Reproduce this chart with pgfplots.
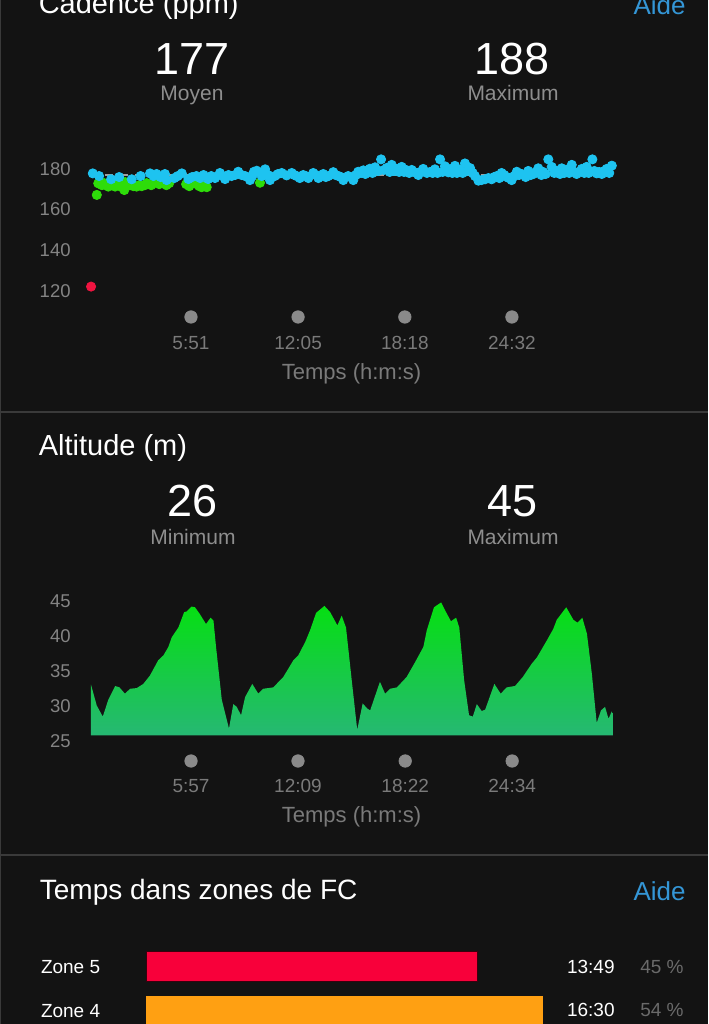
\documentclass[border=0pt]{standalone}
\usepackage{fontspec}
\setmainfont{Liberation Sans}
\usepackage{pgfplots}
\pgfplotsset{compat=1.18}
\definecolor{bg}{HTML}{131313}
\definecolor{sep}{HTML}{3A3A3A}
\definecolor{subtxt}{HTML}{8E8E8E}
\definecolor{ticktxt}{HTML}{7A7A7A}
\definecolor{ytxt}{HTML}{848484}
\definecolor{dotgray}{HTML}{8A8A8A}
\definecolor{pcttxt}{HTML}{6A6A6A}
\definecolor{aide}{HTML}{3496D6}
\definecolor{ccyan}{HTML}{1EC3F0}
\definecolor{cgreen}{HTML}{2EDC0A}
\definecolor{cred}{HTML}{F01440}
\definecolor{zfive}{HTML}{F8003A}
\definecolor{zfivedark}{HTML}{3A000E}
\definecolor{zfour}{HTML}{FFA012}
\definecolor{alttop}{HTML}{05E010}
\definecolor{altbot}{HTML}{26B873}
\def\u{0.5pt}
\pgfplotsset{darkax/.style={scale only axis, axis line style={draw=none}, tick style={draw=none}, major tick length=0pt,
  ticklabel style={/pgf/number format/assume math mode=true}}}

\pgfplotstableread{
t v
8 177.8
30 176.5
72 174.9
100 176
144 174.9
175 176.5
208 177.8
220 176.5
231 177.5
245 176
260 177.5
266 174.5
293 175.5
305 176.5
319 177.8
342 175
355 176
370 176.5
383 175.5
395 177
411 175
422 176.5
435 175.5
452 178
462 176.5
470 175
482 177
493 176.5
505 177
516 178.6
528 177
540 176.5
557 174.5
565 176.5
571 178.6
581 179.1
598 176.5
610 179.8
620 177
627 174.5
644 176.5
655 177.5
668 178
685 176.8
703 178
712 177
720 176.5
731 175.5
743 177
752 176.5
761 175.5
778 178
788 177
796 175.5
813 177.5
822 176
831 176.5
848 178.4
856 177
866 176.5
875 176
883 174.5
900 176.5
908 176
918 174.5
927 177
935 178.6
945 178
953 179.3
960 177.5
968 178.5
976 180.1
985 178
994 180.8
1005 179
1015 184.7
1025 179.5
1035 180.5
1045 178.5
1052 182
1060 179
1070 180
1078 178.5
1087 181
1095 178.5
1104 179.4
1113 178
1122 179.5
1130 178.5
1145 177
1152 178.5
1162 180
1175 178
1186 178.5
1195 178
1203 179.8
1212 178
1221 184.7
1230 178.5
1238 181.3
1250 178.3
1256 179.9
1264 178
1273 181.5
1280 178
1291 179.5
1300 178
1308 182.7
1315 179
1326 180.4
1335 178
1343 176.5
1355 174.2
1366 174.5
1378 174.9
1390 175.5
1401 174.9
1410 176
1419 176.5
1428 175.5
1436 178
1445 177
1454 176
1462 175.5
1471 174.5
1480 176.5
1489 178.6
1497 177
1506 177.5
1520 176
1529 179
1538 177
1547 177.5
1556 178.5
1564 180.3
1575 177
1581 178.5
1590 177.5
1599 184.7
1611 181
1620 178
1628 179
1640 177.5
1646 180.3
1655 178
1663 179.5
1672 178
1681 182
1690 178.5
1698 177.5
1707 178.5
1716 180
1725 178
1733 181
1740 178
1753 184.7
1760 179
1768 177.8
1777 178.5
1786 177.5
1795 179
1803 180
1812 178
1821 181.6
}\cadblue

\pgfplotstableread{
t v
22 167.2
27 172.9
40 172
47 173
55 172
62 171.3
75 172
86 171.3
95 172.5
103 172
110 171
118 169.6
121 173.5
130 172.5
138 172
150 171.5
161 171.3
170 172
179 171.5
190 172
196 173
212 172
225 173.2
240 172.5
254 173
265 172
275 173
334 172.5
345 171.5
359 173
371 172.5
380 171.5
388 171
397 171.5
406 171
592 173.2
}\cadgreen

\pgfplotstableread{
t v
9 25.8
9 33.1
29 30.1
50 28.5
69 30.9
93 32.9
108 32.7
127 31.8
145 32.5
168 32.6
191 33.2
214 34.4
243 36.6
261 37.3
278 38.5
290 39.9
313 41.3
333 43.5
342 43.6
359 44.3
371 44.2
388 43.2
409 41.8
425 42.7
435 42.3
444 38.5
464 30.9
489 26.8
504 30.3
516 29.9
531 28.7
545 31.3
570 33.2
591 31.8
608 32.5
643 32.7
678 34.2
713 36.6
730 37.3
754 39.2
771 40.9
792 43.4
821 44.4
841 43.5
866 41.6
881 43.0
896 41.3
916 33.7
935 26.6
954 30.4
969 29.7
980 29.4
1014 33.5
1032 31.8
1049 32.5
1073 32.7
1107 34.2
1136 36.3
1165 38.5
1177 40.9
1202 44.2
1227 44.9
1244 43.5
1261 42.2
1279 42.7
1290 41.3
1307 33.7
1324 28.7
1337 28.5
1351 30.3
1368 29.3
1380 29.5
1412 33.2
1434 31.8
1455 32.7
1484 32.9
1511 34.2
1542 36.1
1560 37.0
1594 39.4
1617 41.1
1629 42.4
1662 44.2
1687 42.4
1701 42.0
1718 42.7
1734 40.4
1751 34.7
1768 27.6
1783 29.4
1797 29.9
1809 28.2
1821 29.3
1824 29.0
1824 25.8
}\altdata

\begin{document}
\begin{tikzpicture}
\fill[bg] (0,0) rectangle (708*\u,-1024*\u);
\begin{scope}
\clip (0,0) rectangle (708*\u,-1024*\u);
\draw[sep, line width=1*\u] (0.5*\u,0) -- (0.5*\u,-1024*\u);
\draw[sep, line width=2*\u] (0,-411.5*\u) -- (708*\u,-411.5*\u);
\draw[sep, line width=2*\u] (0,-855*\u) -- (708*\u,-855*\u);

% --- Cadence header
\node[anchor=base west, inner sep=0pt, text=white, font=\fontsize{14.5}{17}\selectfont] at (38.4*\u,-13.3*\u) {Cadence (ppm)};
\node[anchor=base east, inner sep=0pt, text=aide, font=\fontsize{13}{15}\selectfont] at (686*\u,-14*\u) {Aide};
\node[anchor=base, inner sep=0pt, text=white, font=\fontsize{22.5}{26}\selectfont] at (192*\u,-74*\u) {177};
\node[anchor=base, inner sep=0pt, text=subtxt, font=\fontsize{10.5}{12}\selectfont] at (192*\u,-100.7*\u) {Moyen};
\node[anchor=base, inner sep=0pt, text=white, font=\fontsize{22.5}{26}\selectfont] at (512*\u,-74*\u) {188};
\node[anchor=base, inner sep=0pt, text=subtxt, font=\fontsize{10.5}{12}\selectfont] at (513*\u,-100.7*\u) {Maximum};

% --- Altitude header
\node[anchor=base west, inner sep=0pt, text=white, font=\fontsize{14.5}{17}\selectfont] at (38.4*\u,-455*\u) {Altitude (m)};
\node[anchor=base, inner sep=0pt, text=white, font=\fontsize{22.5}{26}\selectfont] at (193*\u,-516.7*\u) {26};
\node[anchor=base, inner sep=0pt, text=subtxt, font=\fontsize{10.5}{12}\selectfont] at (193*\u,-544*\u) {Minimum};
\node[anchor=base, inner sep=0pt, text=white, font=\fontsize{22.5}{26}\selectfont] at (513*\u,-516.7*\u) {45};
\node[anchor=base, inner sep=0pt, text=subtxt, font=\fontsize{10.5}{12}\selectfont] at (513*\u,-544*\u) {Maximum};

% --- Zones header
\node[anchor=base west, inner sep=0pt, text=white, font=\fontsize{14}{17}\selectfont] at (39.5*\u,-899.3*\u) {Temps dans zones de FC};
\node[anchor=base east, inner sep=0pt, text=aide, font=\fontsize{13}{15}\selectfont] at (686*\u,-900*\u) {Aide};
\node[anchor=base east, inner sep=0pt, text=white, font=\fontsize{9.5}{11}\selectfont] at (615*\u,-973*\u) {13:49};
\node[anchor=base east, inner sep=0pt, text=pcttxt, font=\fontsize{9.5}{11}\selectfont] at (684*\u,-973*\u) {45 \%};
\node[anchor=base east, inner sep=0pt, text=white, font=\fontsize{9.5}{11}\selectfont] at (615*\u,-1016.7*\u) {16:30};
\node[anchor=base east, inner sep=0pt, text=pcttxt, font=\fontsize{9.5}{11}\selectfont] at (684*\u,-1016.7*\u) {54 \%};

% --- Cadence chart
\begin{axis}[darkax, at={(90.5*\u,-300*\u)}, anchor=south west,
  width=264.75pt, height=75pt,
  xmin=0, xmax=1849.5, ymin=115.5, ymax=189.3,
  xtick={351,725,1098,1472}, xticklabels={5:51,12:05,18:18,24:32},
  ytick={120,140,160,180},
  xticklabel style={anchor=center, inner sep=0pt, yshift=-21.35pt, font=\fontsize{9.5}{11}\selectfont, text=ticktxt},
  yticklabel style={anchor=east, inner sep=0pt, xshift=-9.75pt, font=\fontsize{9.25}{10}\selectfont, text=ytxt},
  xlabel={Temps (h:m:s)},
  xlabel style={at={(axis description cs:0.493,0)}, anchor=center, inner sep=0pt, yshift=-37pt, font=\fontsize{11}{13}\selectfont, text=ticktxt},
  clip=false]
\addplot[only marks, mark=*, mark size=3.1pt, color=dotgray] coordinates {(351,107.15) (725,107.15) (1098,107.15) (1472,107.15)};
\addplot[only marks, mark=*, mark size=2.3pt, color=cred] coordinates {(2,122.1)};
\addplot[only marks, mark=*, mark size=2.3pt, color=cgreen] table[x=t,y=v] {\cadgreen};
\addplot[only marks, mark=*, mark size=2.3pt, color=ccyan] table[x=t,y=v] {\cadblue};
\addplot[white, opacity=0.6, line width=1pt, dash pattern=on 4pt off 3.5pt] coordinates {(0,177) (1824,177)};
\end{axis}

% --- Altitude chart
\begin{axis}[darkax, at={(88.4*\u,-741*\u)}, anchor=south west,
  width=265.8pt, height=75.5pt,
  xmin=0, xmax=1849, ymin=25, ymax=46.68,
  xtick={357,729,1102,1474}, xticklabels={5:57,12:09,18:22,24:34},
  ytick={25,30,35,40,45},
  xticklabel style={anchor=center, inner sep=0pt, yshift=-22.35pt, font=\fontsize{9.5}{11}\selectfont, text=ticktxt},
  yticklabel style={anchor=east, inner sep=0pt, xshift=-8.7pt, font=\fontsize{9.25}{10}\selectfont, text=ytxt},
  xlabel={Temps (h:m:s)},
  xlabel style={at={(axis description cs:0.495,0)}, anchor=center, inner sep=0pt, yshift=-37.85pt, font=\fontsize{11}{13}\selectfont, text=ticktxt},
  clip=false]
\addplot[draw=none, top color=alttop, bottom color=altbot] table[x=t,y=v] {\altdata} -- cycle;
\addplot[only marks, mark=*, mark size=3.1pt, color=dotgray] coordinates {(357,22.13) (729,22.13) (1102,22.13) (1474,22.13)};
\end{axis}

% --- HR zones
\begin{axis}[darkax, at={(146.7*\u,-1040*\u)}, anchor=south west,
  width=271.65pt, height=50pt,
  xmin=0, xmax=1360.6, ymin=3.345, ymax=5.603,
  xtick=\empty, ytick={4,5}, yticklabels={Zone 4,Zone 5},
  yticklabel style={anchor=west, inner sep=0pt, xshift=-53.05pt, font=\fontsize{9.5}{11}\selectfont, text=white},
  clip=false]
\addplot[xbar, bar width=15pt, bar shift=0pt, fill=zfive, draw=zfivedark, line width=0.6pt] coordinates {(829,5)};
\addplot[xbar, bar width=15pt, bar shift=0pt, fill=zfour, draw=zfour] coordinates {(990,4)};
\end{axis}
\end{scope}
\pgfresetboundingbox
\path (0,0) rectangle (708*\u,-1024*\u);
\end{tikzpicture}
\end{document}
